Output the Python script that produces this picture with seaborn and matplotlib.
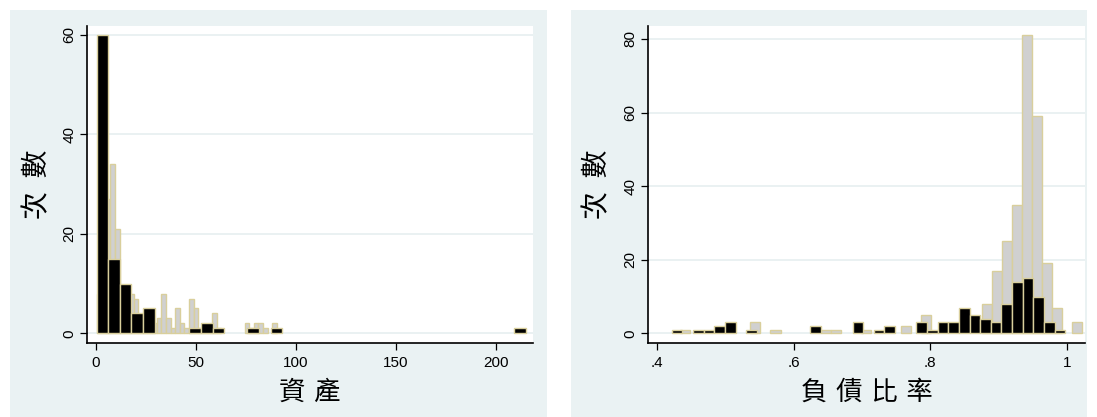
import numpy as np
import pandas as pd
import matplotlib
matplotlib.use("Agg")
import matplotlib.pyplot as plt
import seaborn as sns
from matplotlib.patches import Rectangle

# ---- 資產 (assets): two groups, each binned on its own grid ----
asset_gray_start = 0.35
asset_gray_width = 2.31
asset_gray_counts = [8, 19, 27, 34, 21, 9, 8, 8, 7, 3,
                     4, 3, 2, 3, 8, 3, 1, 5, 2, 1,
                     7, 5, 1, 1, 1, 4, 1, 0, 0, 0,
                     0, 0, 2, 1, 2, 2, 1, 0, 2]
asset_black_start = 0.35
asset_black_width = 5.8
asset_black_counts = [60, 15, 10, 4, 5, 0, 0, 0, 1, 2,
                      1, 0, 0, 1, 0, 1, 0, 0, 0, 0,
                      0, 0, 0, 0, 0, 0, 0, 0, 0, 0,
                      0, 0, 0, 0, 0, 0, 1]

# ---- 負債比率 (debt ratio) ----
debt_gray_start = 0.434
debt_gray_width = 0.0147
debt_gray_counts = [1, 0, 0, 0, 0, 0, 0, 3, 0, 1,
                    0, 0, 0, 0, 1, 1, 0, 0, 1, 0,
                    0, 0, 2, 0, 5, 0, 0, 0, 0, 0,
                    8, 17, 25, 35, 81, 59, 19, 7, 0, 3]
debt_black_start = 0.4219
debt_black_width = 0.01555
debt_black_counts = [1, 0, 1, 1, 2, 3, 0, 1, 0, 0,
                     0, 0, 0, 2, 0, 0, 0, 3, 0, 1,
                     2, 0, 0, 3, 1, 3, 3, 7, 5, 4,
                     3, 8, 14, 15, 10, 3, 1]

asset_xticks = [0, 50, 100, 150, 200]
asset_xticklabels = ["0", "50", "100", "150", "200"]
asset_yticks = [0, 20, 40, 60]
debt_xticks = [0.4, 0.6, 0.8, 1.0]
debt_xticklabels = [".4", ".6", ".8", "1"]
debt_yticks = [0, 20, 40, 60, 80]

y_title = "次 數"
asset_title = "資 產"
debt_title = "負 債 比 率"

# ---- style ----
PANEL_BG = "#eaf2f3"
GRID = "#e4edef"
EDGE = "#d9cf9c"
GRAY_FILL = "#d0d0d0"
BLACK_FILL = "#000000"
TICK_FONT = ["Liberation Sans", "DejaVu Sans"]
CJK_FONT = ["Noto Sans CJK TC", "DejaVu Sans"]

sns.set_theme(style="white")
plt.rcParams["font.family"] = TICK_FONT

W, H = 1097, 417
fig = plt.figure(figsize=(W / 100, H / 100), dpi=100, facecolor="white")


def px_axes(x0, x1, y0, y1):
    return fig.add_axes([x0 / W, 1 - y1 / H, (x1 - x0) / W, (y1 - y0) / H])


def panel_bg(x0, x1, y0, y1):
    fig.patches.append(Rectangle((x0 / W, 1 - y1 / H), (x1 - x0) / W, (y1 - y0) / H,
                                 transform=fig.transFigure, facecolor=PANEL_BG,
                                 edgecolor="none", zorder=-10))


def spaced(text, gap):
    # widen the gap between the characters of a title
    return text.replace(" ", gap)


def draw_hist(ax, start, width, counts, fill):
    counts = [float(c) for c in counts]
    edges = [start + width * i for i in range(len(counts) + 1)]
    centers = [0.5 * (a + b) for a, b in zip(edges[:-1], edges[1:])]
    frame = pd.DataFrame({"value": centers, "n": counts})
    before = len(ax.patches)
    sns.histplot(data=frame, x="value", weights="n", bins=edges, ax=ax, stat="count",
                 color=fill, edgecolor=EDGE, linewidth=1.0, alpha=1.0)
    for p in ax.patches[before:]:
        p.set_facecolor(fill)
        p.set_edgecolor(EDGE)
        if p.get_height() <= 0:
            p.set_visible(False)


def style_axes(ax, xlim, ylim, xticks, xticklabels, yticks, xlabel,
               ylabel_x, xlabel_y):
    ax.set_facecolor("white")
    ax.set_xlim(*xlim)
    ax.set_ylim(*ylim)
    ax.set_xticks(xticks)
    ax.set_xticklabels(xticklabels)
    ax.set_yticks(yticks)
    ax.set_yticklabels([str(t) for t in yticks], rotation=90, va="center")
    ax.tick_params(axis="both", direction="out", length=5, width=0.9,
                   color="black", labelsize=11, labelcolor="black", pad=3)
    ax.tick_params(axis="x", bottom=True, pad=4)
    ax.tick_params(axis="y", left=True)
    for side in ("top", "right"):
        ax.spines[side].set_visible(False)
    for side in ("left", "bottom"):
        ax.spines[side].set_color("black")
        ax.spines[side].set_linewidth(1.2)
    ax.yaxis.grid(True, color=GRID, linewidth=1.1)
    ax.xaxis.grid(False)
    ax.set_axisbelow(True)
    ax.set_xlabel(spaced(xlabel, "\u2004"), family=CJK_FONT, fontsize=19, color="black")
    ax.set_ylabel(spaced(y_title, "\u2002"), family=CJK_FONT, fontsize=20, color="black")
    ax.xaxis.set_label_coords(0.5, xlabel_y)
    ax.yaxis.set_label_coords(ylabel_x, 0.5)
    ax.xaxis.label.set_va("center")
    ax.yaxis.label.set_va("center")


# panel backgrounds
panel_bg(10, 547, 10, 417)
panel_bg(571, 1087, 10, 417)

# left: assets
ax1 = px_axes(87.3, 532.7, 26, 343.3)
draw_hist(ax1, asset_gray_start, asset_gray_width, asset_gray_counts, GRAY_FILL)
draw_hist(ax1, asset_black_start, asset_black_width, asset_black_counts, BLACK_FILL)
style_axes(ax1, (-4.3, 218.3), (-2.0, 61.8), asset_xticks, asset_xticklabels,
           asset_yticks, asset_title, -0.112, -0.155)

# right: debt ratio
ax2 = px_axes(648.3, 1085, 26, 343.3)
draw_hist(ax2, debt_gray_start, debt_gray_width, debt_gray_counts, GRAY_FILL)
draw_hist(ax2, debt_black_start, debt_black_width, debt_black_counts, BLACK_FILL)
style_axes(ax2, (0.3877, 0.3877 + (1085 - 648.3) / 684), (-2.7, 83.5), debt_xticks,
           debt_xticklabels, debt_yticks, debt_title, -0.116, -0.155)

fig.savefig("out.png", dpi=100, facecolor="white")
